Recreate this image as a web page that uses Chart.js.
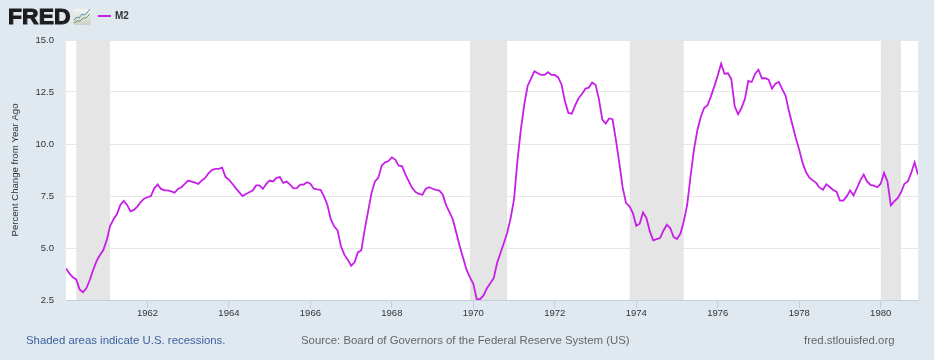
<!DOCTYPE html>
<html>
<head>
<meta charset="utf-8">
<script src="https://cdn.jsdelivr.net/npm/chart.js@4/dist/chart.umd.min.js"></script>
<style>
html,body{margin:0;padding:0;width:934px;height:360px;overflow:hidden;background:#e1e9f0;font-family:"Liberation Sans",Arial,sans-serif}
#wrap{position:absolute;left:0;top:0;width:934px;height:360px}
.t{position:absolute;white-space:nowrap}
</style>
</head>
<body>
<div id="wrap"><canvas id="c" width="934" height="360"></canvas></div>
<div class="t" style="left:8px;top:3px;font:bold 22px/28px 'Liberation Sans',Arial,sans-serif;color:#1d1d1f;letter-spacing:.1px;-webkit-text-stroke:1px #1d1d1f;transform-origin:0 50%;transform:scaleX(1.04)">FRED</div>
<svg style="position:absolute;left:73px;top:9px" width="18" height="16" viewBox="0 0 18 16">
<defs><linearGradient id="g" x1="0" y1="0" x2="0" y2="1"><stop offset="0" stop-color="#f4f4f2"/><stop offset="1" stop-color="#cfcfc9"/></linearGradient></defs>
<rect width="18" height="16" rx="2" fill="url(#g)"/>
<path d="M1 11 L4 8 L6 9 L9 5 L11 6 L14 4 L17 0" fill="none" stroke="#5a93ad" stroke-width="1"/>
<path d="M1 14 L4 12 L7 12 L10 9 L13 9 L17 5" fill="none" stroke="#6fa05a" stroke-width="1"/>
</svg>
<div style="position:absolute;left:98px;top:15px;width:13px;height:2px;background:#c71ee8"></div>
<div class="t" style="left:115px;top:10px;font:bold 10px/12px 'Liberation Sans',Arial,sans-serif;color:#333">M2</div>
<div class="t" style="left:26px;top:333px;font:11.4px/14px 'Liberation Sans',Arial,sans-serif;color:#3a5f9f">Shaded areas indicate U.S. recessions.</div>
<div class="t" style="left:301px;top:333px;font:11.4px/14px 'Liberation Sans',Arial,sans-serif;color:#666">Source: Board of Governors of the Federal Reserve System (US)</div>
<div class="t" style="left:804px;top:333px;font:11.4px/14px 'Liberation Sans',Arial,sans-serif;color:#666">fred.stlouisfed.org</div>
<script>
const seriesName = "M2";
const startYear = 1960;
const yTicks = [2.5, 5.0, 7.5, 10.0, 12.5, 15.0];
const xTickYears = [1962, 1964, 1966, 1968, 1970, 1972, 1974, 1976, 1978, 1980];
const values1960s = [
  4.02,3.78,3.59,3.49,3.01,2.87,3.06,3.46,3.94,4.37,4.66,4.90,
  5.38,6.07,6.38,6.62,7.07,7.26,7.07,6.76,6.83,6.99,7.21,7.37,
  7.44,7.50,7.87,8.06,7.84,7.77,7.77,7.72,7.66,7.84,7.92,8.08,
  8.24,8.19,8.14,8.08,8.25,8.37,8.60,8.75,8.80,8.80,8.86,8.41,
  8.29,8.09,7.88,7.69,7.50,7.60,7.68,7.76,8.01,8.01,7.84,8.08,
  8.24,8.20,8.37,8.41,8.13,8.19,8.05,7.87,7.88,8.05,8.05,8.16,
  8.09,7.85,7.82,7.80,7.48,7.08,6.39,6.04,5.85,5.08,4.68,4.44,
  4.15,4.31,4.79,4.89,5.88,6.76,7.64,8.20,8.37,8.96,9.12,9.18,
  9.36,9.25,8.96,8.94,8.53,8.20,7.88,7.69,7.60,7.56,7.85,7.92,
  7.85,7.79,7.76,7.56,7.05,6.71,6.36,5.72,5.08,4.52,3.96,3.59
];
const values1970s = [
  3.28,2.54,2.54,2.72,3.07,3.31,3.55,4.28,4.76,5.24,5.75,6.44,
  7.35,9.20,10.69,11.89,12.80,13.14,13.50,13.40,13.32,13.32,13.45,13.32,
  13.32,13.20,12.85,12.05,11.49,11.46,11.86,12.20,12.40,12.66,12.71,12.96,
  12.85,12.16,11.17,10.98,11.23,11.19,10.20,9.09,7.90,7.16,7.00,6.68,
  6.07,6.17,6.71,6.44,5.80,5.37,5.43,5.48,5.83,6.12,5.96,5.53,
  5.43,5.69,6.28,7.08,8.45,9.73,10.66,11.30,11.73,11.86,12.29,12.77,
  13.29,13.86,13.38,13.40,13.12,11.81,11.43,11.73,12.16,13.03,12.98,13.37,
  13.57,13.16,13.16,13.09,12.66,12.90,12.98,12.64,12.32,11.57,10.93,10.29,
  9.73,9.09,8.65,8.38,8.25,8.13,7.90,7.80,8.06,7.93,7.79,7.71,
  7.28,7.28,7.48,7.77,7.53,7.88,8.25,8.53,8.20,8.03,8.00,7.92
];
const values1980 = [8.09,8.61,8.20,7.05,7.24,7.40,7.68,8.09,8.20,8.61,9.12,8.53];
const recessionStarts = [1960.25, 1969.9167, 1973.8333, 1980.0];
const recessionEnds = [1961.0833, 1970.8333, 1975.1667, 1980.5];

const m2 = values1960s.concat(values1970s, values1980);
const m2Points = m2.map((v, i) => ({x: startYear + i / 12, y: v}));
const recessionSets = recessionStarts.map((s, i) => ({
  label: "Recession",
  data: [{x: s, y: 15}, {x: recessionEnds[i], y: 15}],
  borderWidth: 0, pointRadius: 0, backgroundColor: "#e5e5e5",
  borderColor: "#e5e5e5", fill: "start", order: 2, tension: 0
}));
const whitePlot = {
  id: "whitePlot",
  beforeDraw(ch) {
    const a = ch.chartArea, g = ch.ctx;
    g.save(); g.fillStyle = "#fff";
    g.fillRect(a.left, a.top, a.width, a.height);
    g.restore();
  }
};
new Chart(document.getElementById("c"), {
  type: "line",
  data: { datasets: [
    { label: seriesName, data: m2Points, borderColor: "#c71ee8", borderWidth: 1.8,
      pointRadius: 0, fill: false, tension: 0, order: 1, borderJoinStyle: "miter" },
    ...recessionSets
  ]},
  options: {
    responsive: false, animation: false, parsing: false, normalized: true,
    events: [],
    layout: { padding: { left: 0, right: 16, top: 40, bottom: 0 } },
    plugins: { legend: { display: false }, tooltip: { enabled: false } },
    scales: {
      x: {
        type: "linear", min: startYear, max: startYear + 251 / 12,
        afterFit(s) { s.height = 60; },
        afterBuildTicks(s) { s.ticks = xTickYears.map(v => ({value: v})); },
        grid: { display: true, drawOnChartArea: false, color: "#c0d0e0", tickLength: 8, tickWidth: 1 },
        border: { display: true, color: "#c0d0e0", width: 1 },
        ticks: { autoSkip: false, maxRotation: 0, padding: 0, color: "#333",
          font: { family: "Liberation Sans", size: 9.5 },
          callback: v => String(v) }
      },
      y: {
        min: 2.5, max: 15,
        afterFit(s) { s.width = 66; },
        afterBuildTicks(s) { s.ticks = yTicks.map(v => ({value: v})); },
        title: { display: true, text: "Percent Change from Year Ago", color: "#333",
          font: { family: "Liberation Sans", size: 9.6 }, padding: { top: 10, bottom: 0 } },
        grid: { color: "#e6e6e6", lineWidth: 1, drawTicks: false },
        border: { display: false },
        ticks: { padding: 12, color: "#333", font: { family: "Liberation Sans", size: 9.5 },
          callback: v => v.toFixed(1) }
      }
    }
  },
  plugins: [whitePlot]
});
</script>
</body>
</html>
